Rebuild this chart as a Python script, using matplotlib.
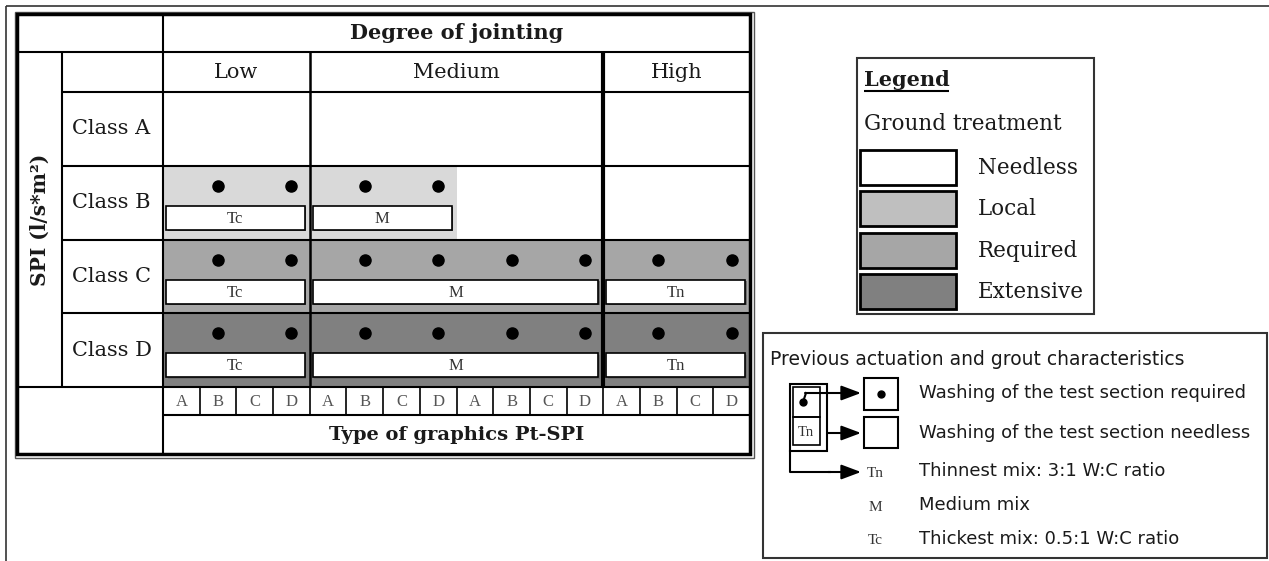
import matplotlib
matplotlib.use('Agg')
import matplotlib.pyplot as plt
from matplotlib.patches import Rectangle
import numpy as np

# ---- data ----
degrees = ['Low', 'Medium', 'High']
degree_span = [4, 8, 4]            # graphic columns under each degree
graphic_types = ['A', 'B', 'C', 'D']
classes = ['Class A', 'Class B', 'Class C', 'Class D']
class_treatment = ['Needless', 'Local', 'Required', 'Extensive']
# (first column, number of columns, grout mix) of each treated stretch
class_segments = [
    [],
    [(0, 4, 'Tc'), (4, 4, 'M')],
    [(0, 4, 'Tc'), (4, 8, 'M'), (12, 4, 'Tn')],
    [(0, 4, 'Tc'), (4, 8, 'M'), (12, 4, 'Tn')],
]
washing_required = ['B', 'D']

legend_treatments = ['Needless', 'Local', 'Required', 'Extensive']
washing_labels = ['Washing of the test section required',
                  'Washing of the test section needless']
mix_codes = ['Tn', 'M', 'Tc']
mix_labels = ['Thinnest mix: 3:1 W:C ratio', 'Medium mix',
              'Thickest mix: 0.5:1 W:C ratio']

table_colors = {'Needless': 'white', 'Local': '#d9d9d9',
                'Required': '#a6a6a6', 'Extensive': '#808080'}
legend_colors = {'Needless': 'white', 'Local': '#bfbfbf',
                 'Required': '#a6a6a6', 'Extensive': '#808080'}

serif = 'DejaVu Serif'
small = 'Liberation Serif'
sans = 'DejaVu Sans'
ink = '#1a1a1a'

fig = plt.figure(figsize=(12.69, 5.61), dpi=100)
ax = fig.add_axes([0, 0, 1, 1])
ax.set_xlim(0, 1269)
ax.set_ylim(561, 0)
ax.axis('off')


def hline(y, x0, x1, lw=1.5, c='black'):
    ax.plot([x0, x1], [y, y], color=c, lw=lw, solid_capstyle='butt')


def vline(x, y0, y1, lw=1.5, c='black'):
    ax.plot([x, x], [y0, y1], color=c, lw=lw, solid_capstyle='butt')


# page frame
hline(6, 6, 1269, lw=1.2, c='#333333')
vline(6, 6, 561, lw=1.2, c='#333333')

# table grid
x_left, x_spi, x_cls, x_right = 17, 62, 163, 750
y_top, y_deg, y_rows, row_h = 14, 52, 92, 73.75
y_letters = y_rows + len(classes) * row_h
y_type, y_bot = 415, 454
ncol = sum(degree_span)
cw = (x_right - x_cls) / ncol
col_x = x_cls + cw * np.arange(ncol + 1)
deg_edges = col_x[np.concatenate([[0], np.cumsum(degree_span)])]

# treated stretches
for i, cls in enumerate(classes):
    y0 = y_rows + i * row_h
    shade = table_colors[class_treatment[i]]
    for start, n, mix in class_segments[i]:
        xs, xe = col_x[start], col_x[start + n]
        ax.add_patch(Rectangle((xs, y0), xe - xs, row_h, color=shade, lw=0))
        for j in range(start, start + n):
            if graphic_types[j % 4] in washing_required:
                ax.plot(col_x[j] + cw / 2, y0 + 20, 'o', color='black', ms=8)
        bx0, bx1 = xs + 3, xe - 5
        by0, by1 = y0 + 40, y0 + 64
        ax.add_patch(Rectangle((bx0 + 1.5, by0 + 1.5), bx1 - bx0, by1 - by0,
                               facecolor='#707070', edgecolor='none'))
        ax.add_patch(Rectangle((bx0, by0), bx1 - bx0, by1 - by0,
                               facecolor='white', edgecolor='black', lw=1.2))
        ax.text((bx0 + bx1) / 2, (by0 + by1) / 2 + 1, mix, ha='center',
                va='center', fontsize=12, family=small, color='#333333')

# grid lines
hline(y_deg, x_left, x_right)
for i in range(len(classes)):
    hline(y_rows + i * row_h, x_spi, x_right)
hline(y_letters, x_left, x_right)
hline(y_type, x_cls, x_right)
vline(x_spi, y_deg, y_letters)
vline(x_cls, y_top, y_bot)
vline(deg_edges[1], y_deg, y_letters, lw=1.8)
vline(deg_edges[2], y_deg, y_letters, lw=3)
for x in col_x[1:-1]:
    vline(x, y_letters, y_type, lw=1.2)

# double frame
ax.add_patch(Rectangle((x_left - 2.5, y_top - 2.5), x_right - x_left + 6,
                       y_bot - y_top + 6, fill=False, ec='#555555', lw=1))
ax.add_patch(Rectangle((x_left, y_top), x_right - x_left, y_bot - y_top,
                       fill=False, ec='black', lw=2.5))

# table texts
ax.text((x_cls + x_right) / 2, (y_top + y_deg) / 2, 'Degree of jointing',
        ha='center', va='center', fontsize=15, family=serif,
        fontweight='bold', color=ink)
for k, d in enumerate(degrees):
    ax.text((deg_edges[k] + deg_edges[k + 1]) / 2, (y_deg + y_rows) / 2, d,
            ha='center', va='center', fontsize=15, family=serif, color=ink)
for i, cls in enumerate(classes):
    ax.text(x_spi + 10, y_rows + (i + 0.5) * row_h, cls, ha='left',
            va='center', fontsize=15, family=serif, color=ink)
ax.text((x_left + x_spi) / 2, (y_deg + y_letters) / 2, 'SPI (l/s*m²)',
        ha='center', va='center', rotation=90, fontsize=14.5, family=serif,
        fontweight='bold', color=ink)
for j in range(ncol):
    ax.text(col_x[j] + cw / 2, (y_letters + y_type) / 2 + 1, graphic_types[j % 4],
            ha='center', va='center', fontsize=12, family=small, color='#555555')
ax.text((x_cls + x_right) / 2, (y_type + y_bot) / 2, 'Type of graphics Pt-SPI',
        ha='center', va='center', fontsize=14, family=serif,
        fontweight='bold', color=ink)

# ---- legend 1: ground treatment ----
ax.add_patch(Rectangle((857, 58), 237, 256, fill=False, ec='#333333', lw=1.5))
ax.text(864, 80, 'Legend', ha='left', va='center', fontsize=15,
        family=serif, fontweight='bold', color=ink)
hline(91, 864, 949, lw=1.5)
ax.text(864, 124, 'Ground treatment', ha='left', va='center', fontsize=15.5,
        family=serif, color=ink)
sw_y = [150, 191, 233, 274]
for k, t in enumerate(legend_treatments):
    ax.add_patch(Rectangle((860, sw_y[k]), 96, 35,
                           facecolor=legend_colors[t], edgecolor='black', lw=2))
    ax.text(978, sw_y[k] + 18, t, ha='left', va='center', fontsize=15.5,
            family=serif, color=ink)

# ---- legend 2: previous actuation ----
ax.add_patch(Rectangle((763, 333), 504, 225, fill=False, ec='#333333', lw=1.5))
ax.text(770, 359, 'Previous actuation and grout characteristics', ha='left',
        va='center', fontsize=13.5, family=sans, color=ink)
# small cell sketch
ax.add_patch(Rectangle((790, 384), 37, 67, fill=False, ec='black', lw=1.5))
ax.add_patch(Rectangle((793, 387), 27, 30, fill=False, ec='black', lw=1.2))
ax.add_patch(Rectangle((793, 417), 27, 28, fill=False, ec='black', lw=1.2))
ax.plot(803, 402, 'o', color='black', ms=5)
ax.text(806, 432, 'Tn', ha='center', va='center', fontsize=10.5, family=small,
        color='#333333')
arrow = dict(arrowstyle='-|>,head_length=1.2,head_width=0.45', color='black',
             lw=1.5, shrinkA=0, shrinkB=0)
ax.plot([803, 806], [402, 393], color='black', lw=1.5)
ax.annotate('', xy=(861, 393), xytext=(805, 393), arrowprops=arrow)
ax.annotate('', xy=(861, 433), xytext=(827, 433), arrowprops=arrow)
ax.plot([790, 790, 830], [451, 472, 472], color='black', lw=1.5)
ax.annotate('', xy=(861, 472), xytext=(828, 472), arrowprops=arrow)
# symbol squares
ax.add_patch(Rectangle((864, 378), 34, 32, fill=False, ec='black', lw=1.5))
ax.plot(881, 394, 'o', color='black', ms=5)
ax.add_patch(Rectangle((864, 417), 34, 31, fill=False, ec='black', lw=1.5))
for k, lab in enumerate(washing_labels):
    ax.text(919, 393 + 40 * k, lab, ha='left', va='center', fontsize=13,
            family=sans, color=ink)
for k, (code, lab) in enumerate(zip(mix_codes, mix_labels)):
    y = 471 + 34 * k
    ax.text(875, y + 2, code, ha='center', va='center', fontsize=11,
            family=small, color='#333333')
    ax.text(919, y, lab, ha='left', va='center', fontsize=13, family=sans,
            color=ink)

fig.savefig('out.png', dpi=100)
